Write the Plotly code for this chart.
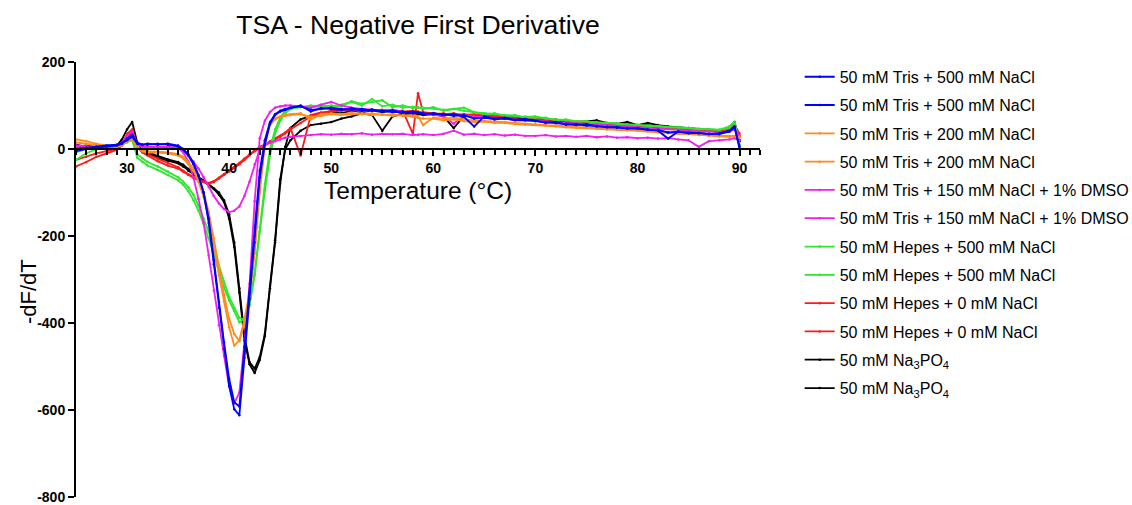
import plotly.graph_objects as go

# Temperature grid (°C)
T = [25, 26, 27, 28, 29, 29.5, 30, 30.5, 31, 31.5,
     32, 33, 34, 35, 35.5, 36, 36.5, 37, 37.5, 38,
     38.5, 39, 39.5, 40, 40.5, 41, 41.5, 42, 42.5, 43,
     43.5, 44, 44.5, 45, 45.5, 46, 47, 48, 49, 50,
     51, 52, 53, 54, 55, 56, 57, 58, 58.5, 59,
     60, 61, 62, 63, 64, 65, 66, 67, 68, 69,
     70, 71, 72, 73, 74, 75, 76, 77, 78, 79,
     80, 81, 82, 83, 84, 85, 86, 87, 88, 89,
     89.5, 90]

tris500_a = [-5, 0, 3, 6, 8, 12, 24, 33, 15, 10,
             12, 10, 12, 8, 0, -12, -32, -60, -100, -170,
             -265, -365, -460, -545, -598, -612, -480, -345, -215, -65,
             10, 58, 78, 86, 90, 94, 100, 86, 94, 92,
             90, 94, 88, 91, 86, 89, 84, 86, 84, 80,
             82, 78, 80, 74, 52, 75, 70, 72, 67, 69,
             64, 62, 60, 58, 55, 57, 52, 51, 49, 48,
             47, 45, 42, 24, 40, 38, 36, 35, 34, 40,
             50, 5]
tris500_b = [0, 3, 5, 8, 10, 14, 20, 28, 12, 10,
             10, 12, 10, 6, -2, -15, -35, -62, -100, -160,
             -255, -352, -445, -528, -582, -592, -455, -330, -200, -50,
             20, 62, 80, 88, 92, 95, 98, 90, 92, 95,
             92, 90, 92, 88, 88, 85, 86, 82, 83, 82,
             80, 80, 76, 78, 70, 72, 68, 70, 66, 66,
             65, 60, 62, 56, 57, 54, 53, 50, 50, 47,
             48, 44, 44, 38, 40, 36, 37, 34, 36, 42,
             52, 0]
tris200_a = [22, 18, 12, 8, 5, 10, 20, 26, 5, -5,
             -8, -8, -10, -15, -22, -35, -50, -75, -110, -160,
             -220, -290, -350, -410, -452, -440, -390, -330, -230, -90,
             20, 60, 70, 75, 78, 80, 82, 68, 80, 82,
             80, 83, 80, 82, 78, 80, 76, 78, 75, 55,
             72, 70, 72, 68, 66, 65, 63, 62, 60, 58,
             57, 55, 54, 52, 50, 50, 48, 47, 45, 45,
             44, 42, 40, 38, 37, 36, 34, 32, 30, 30,
             30, 28]
tris200_b = [15, 12, 10, 6, 5, 8, 18, 22, 3, -3,
             -5, -6, -8, -12, -18, -30, -45, -68, -100, -145,
             -205, -270, -335, -390, -425, -442, -400, -340, -240, -100,
             10, 55, 68, 74, 76, 78, 80, 74, 76, 80,
             78, 80, 82, 78, 80, 76, 78, 74, 72, 70,
             70, 66, 68, 64, 62, 63, 60, 60, 57, 56,
             55, 54, 52, 50, 49, 48, 46, 45, 44, 43,
             42, 40, 38, 36, 35, 34, 32, 30, 29, 28,
             30, 26]
dmso_a = [8, 6, 5, 6, 8, 15, 30, 40, 12, 5,
          5, 5, 4, 2, -8, -28, -65, -115, -170, -245,
          -325, -405, -475, -545, -585, -560, -445, -310, -120, 25,
          65, 85, 95, 98, 100, 100, 98, 95, 102, 108,
          100, 95, 92, 90, 88, 90, 86, 85, 84, 82,
          78, 76, 58, 78, 75, 73, 72, 70, 68, 66,
          65, 63, 62, 60, 59, 58, 56, 55, 53, 52,
          50, 48, 47, 46, 44, 42, 40, 40, 38, 40,
          45, 30]
dmso_b = [5, 4, 5, 6, 8, 12, 22, 32, 10, 5,
          5, 4, 5, 3, 0, -15, -28, -45, -65, -88,
          -108, -125, -138, -145, -142, -132, -108, -75, -35, 0,
          10, 14, 18, 22, 26, 28, 30, 32, 34, 33,
          35, 34, 36, 33, 35, 34, 35, 32, 33, 34,
          32, 35, 42, 33, 35, 32, 34, 31, 33, 30,
          30, 32, 29, 30, 28, 30, 27, 29, 26, 27,
          25, 26, 24, 25, 22, 20, 5, 18, 20, 22,
          25, 20]
hepes500_a = [-25, -10, 0, 5, 8, 10, 15, 22, -20, -30,
              -38, -48, -60, -72, -82, -97, -117, -142, -172, -205,
              -242, -282, -318, -348, -372, -398, -390, -360, -290, -180,
              -80, 0, 45, 72, 88, 95, 98, 95, 100, 98,
              102, 108, 100, 115, 98, 102, 95, 97, 95, 95,
              93, 90, 92, 95, 85, 82, 80, 78, 76, 74,
              75, 70, 68, 66, 64, 63, 62, 60, 58, 57,
              55, 54, 52, 50, 50, 48, 46, 45, 44, 48,
              60, 10]
hepes500_b = [-8, 0, 5, 8, 10, 12, 18, 20, -12, -22,
              -30, -40, -52, -65, -75, -88, -105, -130, -160, -190,
              -230, -270, -305, -340, -365, -388, -392, -355, -285, -190,
              -95, -15, 35, 65, 82, 92, 96, 100, 96, 100,
              98, 110, 104, 108, 112, 96, 100, 94, 96, 92,
              96, 88, 92, 88, 84, 80, 82, 76, 78, 72,
              72, 72, 66, 68, 62, 64, 60, 60, 58, 56,
              56, 52, 53, 50, 49, 48, 45, 46, 44, 52,
              62, 8]
hepes0_a = [-40, -30, -18, -10, -2, 10, 35, 45, 5, -8,
            -15, -28, -38, -45, -52, -60, -66, -72, -76, -80,
            -76, -68, -60, -52, -44, -35, -25, -15, -5, 2,
            8, 15, 22, 28, 36, 45, 60, 75, 82, 88,
            90, 88, 92, 88, 90, 87, 88, 35, 128, 85,
            82, 80, 82, 78, 80, 76, 78, 75, 72, 74,
            70, 68, 67, 65, 62, 63, 60, 58, 56, 55,
            54, 52, 50, 48, 47, 45, 44, 42, 42, 45,
            55, 35]
hepes0_b = [-25, -18, -10, -5, 0, 8, 25, 38, 10, -5,
            -12, -22, -32, -42, -50, -58, -65, -70, -75, -78,
            -74, -66, -58, -50, -42, -32, -22, -12, -3, 5,
            10, 18, 25, 30, 38, 48, -15, 78, 84, 86,
            88, 90, 86, 90, 88, 90, 86, 88, 86, 84,
            80, 82, 78, 80, 77, 78, 74, 76, 72, 72,
            70, 67, 68, 64, 64, 62, 60, 59, 57, 54,
            53, 52, 50, 49, 46, 46, 43, 43, 40, 44,
            52, 30]
napo4_a = [10, 5, 5, 6, 8, 22, 45, 62, 15, -5,
           -10, -20, -27, -33, -40, -50, -60, -68, -74, -82,
           -92, -105, -122, -160, -225, -330, -440, -495, -515, -485,
           -430, -320, -215, -80, 5, 48, 68, 76, 80, 85,
           82, 88, 85, 88, 85, 87, 82, 85, 83, 80,
           83, 78, 80, 76, 78, 74, 75, 72, 73, 70,
           72, 68, 66, 65, 62, 64, 66, 60, 58, 62,
           55, 60, 55, 52, 50, 48, 46, 45, 42, 50,
           62, 20]
napo4_b = [5, 8, 4, 5, 6, 15, 30, 40, 8, -3,
           -6, -16, -24, -30, -36, -46, -56, -65, -72, -80,
           -90, -100, -118, -150, -215, -320, -430, -490, -505, -478,
           -425, -315, -210, -70, 0, 20, 42, 55, 58, 62,
           70, 75, 82, 78, 42, 75, 80, 82, 80, 78,
           80, 75, 48, 76, 74, 72, 73, 70, 70, 68,
           68, 66, 64, 62, 63, 60, 64, 58, 57, 60,
           54, 55, 52, 50, 48, 47, 45, 44, 42, 48,
           58, 18]

labels = ["50 mM Tris + 500 mM NaCl", "50 mM Tris + 500 mM NaCl",
          "50 mM Tris + 200 mM NaCl", "50 mM Tris + 200 mM NaCl",
          "50 mM Tris + 150 mM NaCl + 1% DMSO", "50 mM Tris + 150 mM NaCl + 1% DMSO",
          "50 mM Hepes + 500 mM NaCl", "50 mM Hepes + 500 mM NaCl",
          "50 mM Hepes + 0 mM NaCl", "50 mM Hepes + 0 mM NaCl",
          "50 mM Na<sub>3</sub>PO<sub>4</sub>", "50 mM Na<sub>3</sub>PO<sub>4</sub>"]
series = [tris500_a, tris500_b, tris200_a, tris200_b, dmso_a, dmso_b,
          hepes500_a, hepes500_b, hepes0_a, hepes0_b, napo4_a, napo4_b]
colors = ["#0000FF", "#0000FF", "#FF8C1A", "#FF8C1A", "#F01EF0", "#F01EF0",
          "#2EE62E", "#2EE62E", "#FF1A1A", "#FF1A1A", "#000000", "#000000"]

y_ticks = [200, 0, -200, -400, -600, -800]
y_ticktext = ["200", "0", "-200", "-400", "-600", "-800"]

FONT = "Liberation Sans, Arial, Helvetica, sans-serif"

fig = go.Figure()
# draw black first, blue last (blue on top)
for i in reversed(range(len(series))):
    fig.add_trace(go.Scatter(
        x=T, y=series[i], name=labels[i], mode="lines+markers",
        line=dict(color=colors[i], width=1.8),
        marker=dict(color=colors[i], size=2.5),
        legendrank=i + 1, legendgroup="g%d" % i,
    ))

fig.update_layout(
    template="none",
    width=1132, height=505,
    margin=dict(l=76, r=372, t=62, b=8, autoexpand=False),
    plot_bgcolor="white", paper_bgcolor="white",
    font=dict(family=FONT, color="black"),
    title=dict(text="TSA - Negative First Derivative", x=0.5, xref="paper", xanchor="center",
               y=1 - 25 / 505, yref="container", yanchor="middle",
               font=dict(size=26.6, family=FONT, color="black")),
    legend=dict(x=1.058, y=1.005, xanchor="left", yanchor="top", traceorder="grouped",
                tracegroupgap=4.5, maxheight=480,
                font=dict(size=16, family=FONT, color="black"),
                bgcolor="rgba(0,0,0,0)", borderwidth=0),
    xaxis=dict(range=[25, 92], anchor="free", position=0.8, showgrid=False, zeroline=False,
               automargin=False,
               showline=True, linecolor="black", linewidth=2,
               ticks="outside", ticklen=6, tickwidth=2, tickcolor="black",
               tick0=0, dtick=10,
               minor=dict(ticks="outside", dtick=1, ticklen=5, tickwidth=1.5, tickcolor="black",
                          showgrid=False),
               tickfont=dict(size=14, family=FONT, color="black", weight="bold")),
    yaxis=dict(range=[-800, 200], showgrid=False, zeroline=False, automargin=False,
               showline=True, linecolor="black", linewidth=2,
               ticks="outside", ticklen=6, tickwidth=2, tickcolor="black",
               tickvals=y_ticks, ticktext=y_ticktext,
               tickfont=dict(size=14, family=FONT, color="black", weight="bold")),
    annotations=[
        dict(text="Temperature (°C)", x=0.5, y=(497 - 190) / 435, xref="paper", yref="paper",
             xanchor="center", yanchor="middle", showarrow=False,
             font=dict(size=24.5, family=FONT, color="black")),
        dict(text="-dF/dT", x=(28 - 76) / 684, y=(497 - 292) / 435, xref="paper", yref="paper",
             xanchor="center", yanchor="middle", showarrow=False, textangle=-90,
             font=dict(size=22, family=FONT, color="black")),
    ],
)

fig.write_html("out.html")
